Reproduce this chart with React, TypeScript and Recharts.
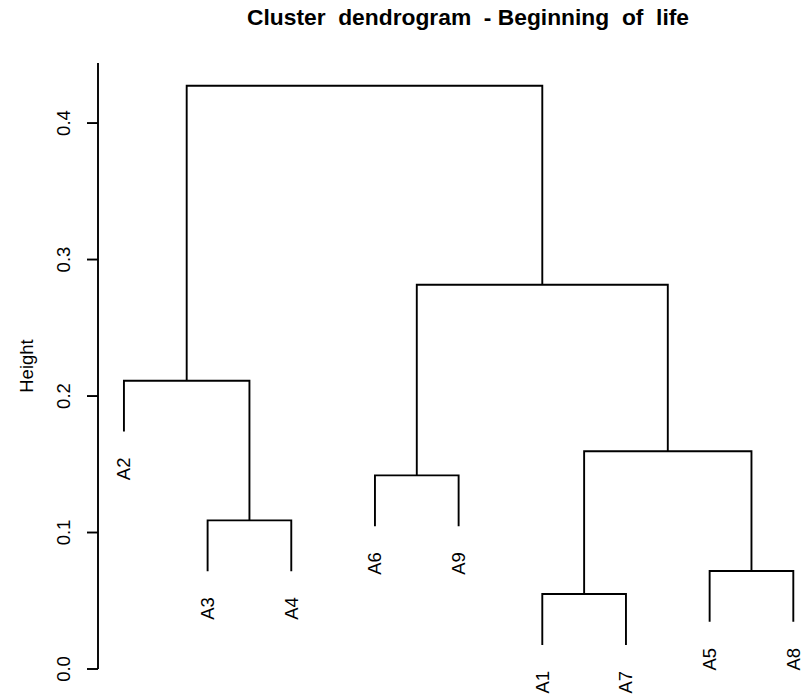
import React from 'react';
import { ComposedChart, Line, Scatter, XAxis, YAxis } from 'recharts';

// leaves in plotting order, left to right
const leafOrder = ['A2', 'A3', 'A4', 'A6', 'A9', 'A1', 'A7', 'A5', 'A8'];

// merge steps (hclust style): m1..m8
const mergeLeft = ['A1', 'A5', 'A3', 'A6', 'm1', 'A2', 'm4', 'm6'];
const mergeRight = ['A7', 'A8', 'A4', 'A9', 'm2', 'm3', 'm5', 'm7'];
const mergeHeight = [0.0549, 0.0718, 0.1089, 0.1419, 0.1595, 0.2112, 0.2815, 0.4273];

const yTicks = [0, 0.1, 0.2, 0.3, 0.4];

const FONT = '"Liberation Sans", Arial, Helvetica, sans-serif';

// leaves hang 10% of the height range below their parent
const hang = 0.1 * (Math.max(...mergeHeight) - Math.min(...mergeHeight));

type Node = { x: number; y: number };
const nodes: Record<string, Node> = {};
leafOrder.forEach((name, i) => {
  nodes[name] = { x: i + 1, y: NaN };
});
mergeLeft.forEach((l, i) => {
  const r = mergeRight[i];
  const h = mergeHeight[i];
  [l, r].forEach((c) => {
    if (isNaN(nodes[c].y)) nodes[c].y = h - hang;
  });
  nodes['m' + (i + 1)] = { x: (nodes[l].x + nodes[r].x) / 2, y: h };
});

const links = mergeLeft.map((l, i) => {
  const r = mergeRight[i];
  const h = mergeHeight[i];
  return [
    { x: nodes[l].x, y: nodes[l].y },
    { x: nodes[l].x, y: h },
    { x: nodes[r].x, y: h },
    { x: nodes[r].x, y: nodes[r].y },
  ];
});

const leafPoints = leafOrder.map((name) => ({ x: nodes[name].x, y: nodes[name].y, name }));

const YTick = (props: any) => {
  const { x, y, payload } = props;
  return (
    <text
      x={x}
      y={y}
      transform={`rotate(-90 ${x} ${y})`}
      textAnchor="middle"
      fontSize={18.5}
      fontFamily={FONT}
      fill="#000"
    >
      {payload.value.toFixed(1)}
    </text>
  );
};

const LeafLabel = (props: any) => {
  const { cx, cy, payload } = props;
  const lx = cx + 6.5;
  const ly = cy + 26;
  return (
    <text
      x={lx}
      y={ly}
      transform={`rotate(-90 ${lx} ${ly})`}
      textAnchor="end"
      fontSize={18.5}
      fontFamily={FONT}
      fill="#000"
    >
      {payload.name}
    </text>
  );
};

export default function App() {
  return (
    <div style={{ position: 'absolute', left: 0, top: 0, width: 804, height: 698, background: '#fff' }}>
      <ComposedChart width={804} height={698} margin={{ top: 63, right: 4, bottom: 29, left: 0 }}>
        <XAxis dataKey="x" type="number" domain={[0.69, 9.08]} hide />
        <YAxis
          type="number"
          domain={[0, 0.444]}
          ticks={yTicks}
          width={98}
          tickSize={11}
          tickMargin={17}
          axisLine={{ stroke: '#000', strokeWidth: 1.9 }}
          tickLine={{ stroke: '#000', strokeWidth: 1.9 }}
          tick={<YTick />}
        />
        {links.map((d, i) => (
          <Line
            key={i}
            data={d}
            dataKey="y"
            type="linear"
            stroke="#000"
            strokeWidth={1.9}
            dot={false}
            activeDot={false}
            isAnimationActive={false}
          />
        ))}
        <Scatter data={leafPoints} dataKey="y" shape={<LeafLabel />} isAnimationActive={false} />
      </ComposedChart>
      <svg width={804} height={698} style={{ position: 'absolute', left: 0, top: 0, pointerEvents: 'none' }}>
        <text
          x={468}
          y={25}
          textAnchor="middle"
          fontSize={22.8}
          fontWeight="bold"
          fontFamily={FONT}
          style={{ whiteSpace: 'pre' }}
        >
          {'Cluster  dendrogram  - Beginning  of  life'}
        </text>
        <text
          x={33}
          y={366}
          transform="rotate(-90 33 366)"
          textAnchor="middle"
          fontSize={18.5}
          fontFamily={FONT}
        >
          Height
        </text>
      </svg>
    </div>
  );
}
